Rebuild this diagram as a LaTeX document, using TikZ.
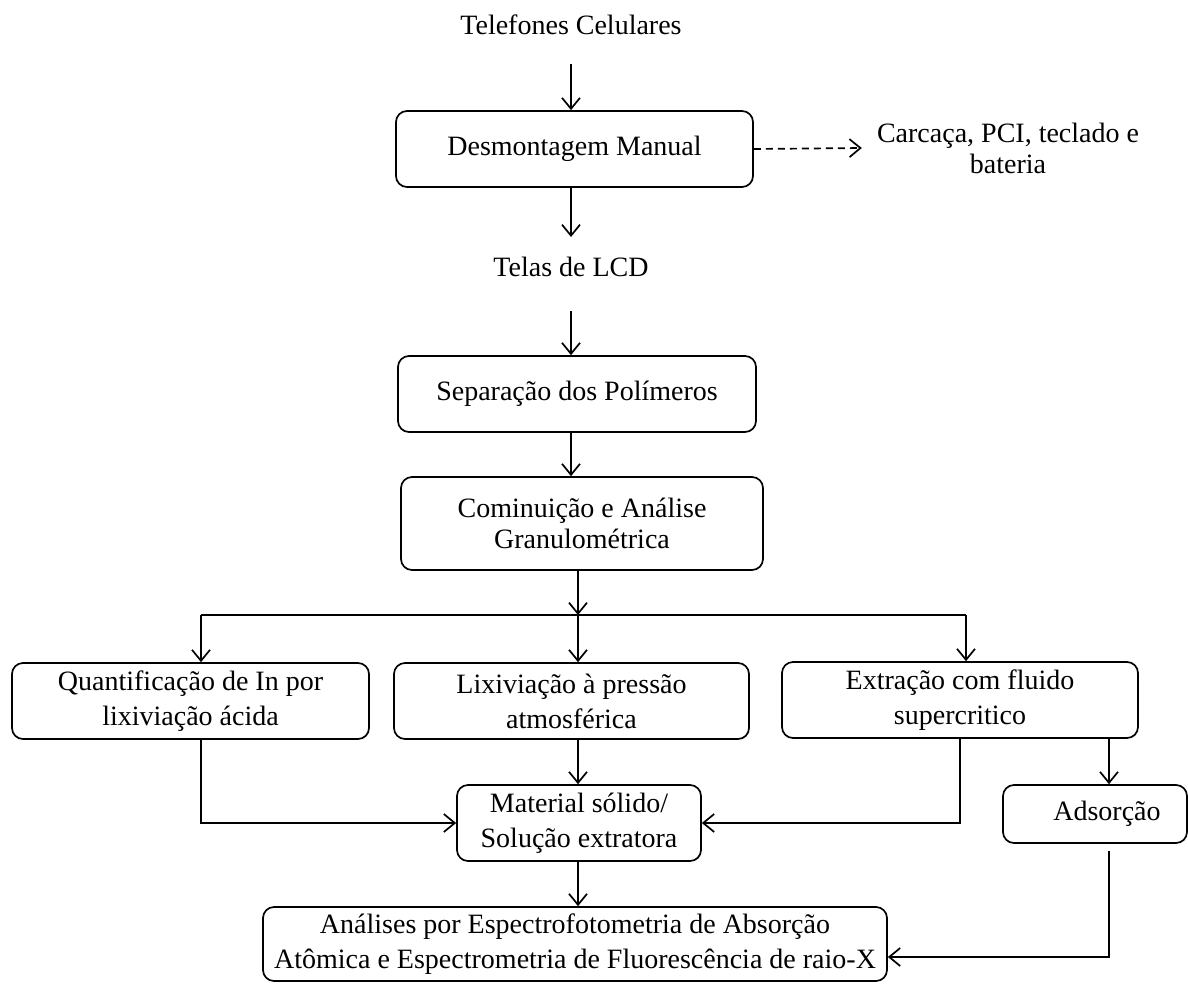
\documentclass[tikz,border=0pt]{standalone}
\usepackage{fontspec}
\setmainfont{Liberation Serif}
\usetikzlibrary{arrows.meta,calc}
\begin{document}
\begin{tikzpicture}[x=1pt,y=-1pt,
  every node/.style={font=\fontsize{28}{33}\selectfont, inner sep=0pt},
  box/.style={draw, line width=1.7pt, rounded corners=11pt, align=center},
  lbl/.style={align=center},
  arr/.style={line width=1.7pt, -{Straight Barb[length=11pt,width=18pt,line width=1.7pt]}},
  ln/.style={line width=1.7pt}
]
\useasboundingbox (0,0) rectangle (1188,983);

% nodes
\node[lbl] (tel) at (571,25) {Telefones Celulares};
\node[box, minimum width=357pt, minimum height=76pt] (des) at (574.5,149) {Desmontagem Manual};
\node[lbl, font=\fontsize{28}{31}\selectfont] (car) at (1008,148) {Carcaça, PCI, teclado e\\bateria};
\node[lbl] (lcd) at (571,267) {Telas de LCD};
\node[box, minimum width=358pt, minimum height=76pt] (sep) at (577,394) {Separação dos Polímeros};
\node[box, minimum width=362pt, minimum height=93pt, font=\fontsize{28}{31}\selectfont] (com) at (582,523.5) {Cominuição e Análise\\Granulométrica};
\node[box, minimum width=357pt, minimum height=76pt, font=\fontsize{28}{35}\selectfont] (qua) at (190.5,701) {Quantificação de In por\\lixiviação ácida};
\node[box, minimum width=355pt, minimum height=76pt, font=\fontsize{28}{35}\selectfont] (lix) at (571.5,701) {Lixiviação à pressão\\atmosférica};
\node[box, minimum width=356pt, minimum height=76pt, font=\fontsize{28}{35}\selectfont] (ext) at (960,700) {Extração com fluido\\supercritico};
\node[box, minimum width=244pt, minimum height=76pt, font=\fontsize{28}{35}\selectfont] (mat) at (579,823) {Material sólido/\\Solução extratora};
\node[box, minimum width=184pt, minimum height=58pt] (ads) at (1095,814) {\hspace*{24pt}Adsorção};
\node[box, minimum width=624pt, minimum height=74pt, font=\fontsize{28}{35}\selectfont] (bot) at (575,944) {Análises por Espectrofotometria de Absorção\\Atômica e Espectrometria de Fluorescência de raio-X};

% helper coordinates
\coordinate (bl) at (201,615);
\coordinate (br) at (578,615);
\coordinate (brr) at (966,615);
\coordinate (adx) at (1109,800);

% connectors
\draw[arr, shorten <=29pt] (tel) -- (tel |- des.north);
\draw[arr, shorten >=30pt] (tel |- des.south) -- (tel |- lcd);
\draw[arr, shorten <=34pt] (lcd) -- (lcd |- sep.north);
\draw[arr] (lcd |- sep.south) -- (lcd |- com.north);
\draw[arr, dash pattern=on 7pt off 5pt] (des.east) -- ([xshift=-15pt]car.west);

\draw[arr] (com.south -| br) -- (br);
\draw[ln] (bl) -- (brr);
\draw[arr] (bl) -- (bl |- qua.north);
\draw[arr] (br) -- (br |- lix.north);
\draw[arr] (brr) -- (brr |- ext.north);

\draw[arr] (bl |- qua.south) |- (mat.west);
\draw[arr] (br |- lix.south) -- (br |- mat.north);
\draw[arr] (ext.south) |- (mat.east);
\draw[arr] (ext.south -| adx) -- (ads.north -| adx);
\draw[arr] (br |- mat.south) -- (br |- bot.north);
\draw[arr] ([yshift=-7pt]ads.south -| adx) |- ([yshift=-13pt]bot.east);
\end{tikzpicture}
\end{document}
